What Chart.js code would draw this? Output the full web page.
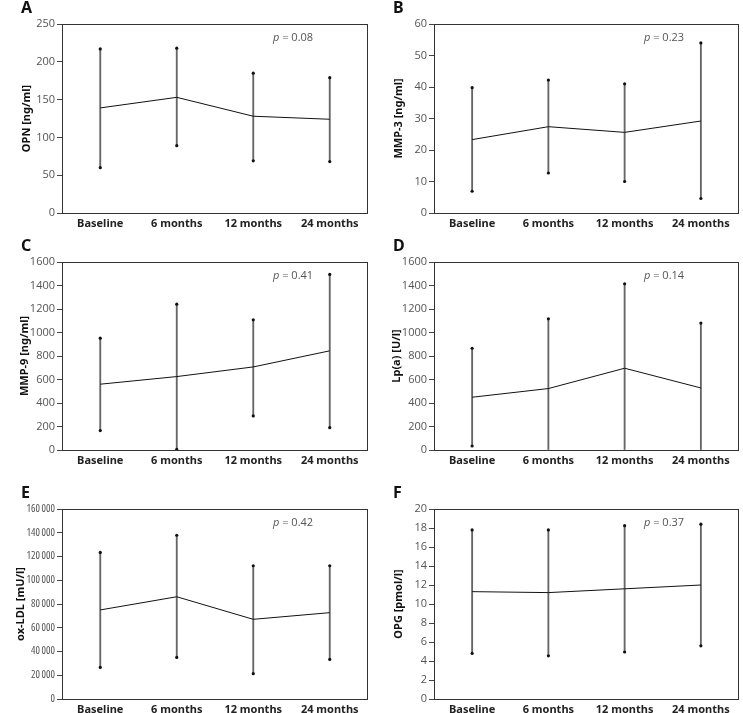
<!DOCTYPE html>
<html>
<head>
<meta charset="utf-8">
<script src="https://cdn.jsdelivr.net/npm/chart.js@4.4.1/dist/chart.umd.min.js"></script>
<style>
  html, body { margin: 0; padding: 0; background: #fff; }
  body { width: 743px; height: 713px; position: relative; overflow: hidden; }
  canvas { position: absolute; }
</style>
</head>
<body>
<canvas id="panelA" width="372" height="236" style="left:0;top:0"></canvas>
<canvas id="panelB" width="371" height="236" style="left:372px;top:0"></canvas>
<canvas id="panelC" width="372" height="236" style="left:0;top:236px"></canvas>
<canvas id="panelD" width="371" height="236" style="left:372px;top:236px"></canvas>
<canvas id="panelE" width="372" height="241" style="left:0;top:472px"></canvas>
<canvas id="panelF" width="371" height="241" style="left:372px;top:472px"></canvas>
<script>
const categories = ['Baseline', '6 months', '12 months', '24 months'];

// A - OPN
const opnMean = [139, 153, 128, 124];
const opnUpper = [217, 218, 185, 179];
const opnLower = [60, 89, 69, 68];
const opnTicks = [0, 50, 100, 150, 200, 250];

// B - MMP-3
const mmp3Mean = [23.3, 27.4, 25.6, 29.2];
const mmp3Upper = [39.8, 42.2, 41.0, 54.0];
const mmp3Lower = [6.9, 12.7, 10.0, 4.6];
const mmp3Ticks = [0, 10, 20, 30, 40, 50, 60];

// C - MMP-9
const mmp9Mean = [560, 625, 707, 844];
const mmp9Upper = [952, 1241, 1108, 1494];
const mmp9Lower = [165, 6, 290, 190];
const mmp9Ticks = [0, 200, 400, 600, 800, 1000, 1200, 1400, 1600];

// D - Lp(a)
const lpaMean = [449, 523, 696, 528];
const lpaUpper = [866, 1116, 1415, 1080];
const lpaLower = [34, 0, 0, 0];
const lpaTicks = [0, 200, 400, 600, 800, 1000, 1200, 1400, 1600];

// E - ox-LDL
const oxldlMean = [75000, 86100, 67100, 72700];
const oxldlUpper = [123400, 137900, 112200, 112200];
const oxldlLower = [26600, 35000, 21300, 33300];
const oxldlTicks = [0, 20000, 40000, 60000, 80000, 100000, 120000, 140000, 160000];

// F - OPG
const opgMean = [11.3, 11.2, 11.6, 12.0];
const opgUpper = [17.8, 17.8, 18.25, 18.4];
const opgLower = [4.8, 4.55, 4.95, 5.6];
const opgTicks = [0, 2, 4, 6, 8, 10, 12, 14, 16, 18, 20];

const tickFont = { family: '"Open Sans"', size: 11, weight: 'normal' };
// ox-LDL ticks are squeezed in the original, so use the condensed width
const narrowFont = { family: '"Open Sans"', size: 10.5, weight: 'condensed' };
const boldFont = { family: '"Noto Sans"', size: 11, weight: 'bold' };

// letter, p-value and box around the plot area
const decorations = {
  id: 'decorations',
  afterDraw(chart, args, opts) {
    const { ctx, chartArea } = chart;
    ctx.save();
    ctx.strokeStyle = '#333';
    ctx.lineWidth = 1;
    ctx.strokeRect(chartArea.left + 0.5, chartArea.top + 0.5,
      chartArea.right - chartArea.left - 1, chartArea.bottom - chartArea.top);

    ctx.fillStyle = '#111';
    ctx.font = 'bold 16px "Noto Sans"';
    ctx.textBaseline = 'middle';
    ctx.fillText(opts.letter, 21, chartArea.top - 16);

    const px = chartArea.right - 95;
    const py = chartArea.top + 14;
    ctx.fillStyle = '#555';
    ctx.font = 'italic 11px "Open Sans"';
    ctx.fillText('p', px, py);
    const w = ctx.measureText('p').width;
    ctx.font = '11px "Open Sans"';
    ctx.fillText(' = ' + opts.pValue, px + w, py);
    ctx.restore();
  }
};

function thousands(v) {
  return v === 0 ? '0' : String(v).replace(/\B(?=(\d{3})+(?!\d))/g, '\u2009');
}

function makePanel(id, p) {
  const ctx = document.getElementById(id).getContext('2d');
  const canvasW = ctx.canvas.width;

  new Chart(ctx, {
    type: 'bar',
    data: {
      labels: categories,
      datasets: [
        {
          type: 'line',
          data: p.mean,
          borderColor: '#111',
          borderWidth: 1,
          pointRadius: 0,
          tension: 0,
          fill: false,
          order: 0
        },
        {
          type: 'line',
          data: p.upper,
          showLine: false,
          pointRadius: 1.6,
          pointBackgroundColor: '#111',
          pointBorderWidth: 0,
          order: 1
        },
        {
          type: 'line',
          data: p.lower,
          showLine: false,
          pointRadius: c => (c.raw > 0 ? 1.6 : 0),
          pointBackgroundColor: '#111',
          pointBorderWidth: 0,
          order: 1
        },
        {
          type: 'bar',
          data: p.lower.map((lo, i) => [lo, p.upper[i]]),
          backgroundColor: '#666',
          borderWidth: 0,
          barThickness: 1.2,
          grouped: false,
          order: 2
        }
      ]
    },
    options: {
      responsive: false,
      animation: false,
      layout: { padding: { top: p.padTop, right: canvasW - 370, left: 0, bottom: 0 } },
      plugins: {
        legend: { display: false },
        tooltip: { enabled: false },
        decorations: { letter: p.letter, pValue: p.pValue }
      },
      scales: {
        x: {
          offset: true,
          grid: { display: false, drawTicks: false },
          border: { display: false },
          ticks: { color: '#222', font: boldFont, padding: 4, maxRotation: 0 },
          afterFit: s => { s.height = p.xHeight; }
        },
        y: {
          min: p.ticks[0],
          max: p.ticks[p.ticks.length - 1],
          afterBuildTicks: s => { s.ticks = p.ticks.map(v => ({ value: v })); },
          grid: { display: true, drawOnChartArea: false, drawTicks: true, tickLength: 5, color: '#444' },
          border: { display: false },
          ticks: {
            color: '#555',
            font: p.narrow ? narrowFont : tickFont,
            padding: 2,
            callback: v => (p.narrow ? thousands(v) : String(v))
          },
          title: {
            display: true,
            text: p.title,
            color: '#111',
            font: boldFont,
            padding: { top: p.titleOffset, bottom: 0 }
          },
          afterFit: s => { s.width = 62; }
        }
      }
    },
    plugins: [decorations]
  });
}

makePanel('panelA', { letter: 'A', pValue: '0.08', title: 'OPN [ng/ml]', mean: opnMean, upper: opnUpper, lower: opnLower, ticks: opnTicks, padTop: 24, xHeight: 23, titleOffset: 20 });
makePanel('panelB', { letter: 'B', pValue: '0.23', title: 'MMP-3 [ng/ml]', mean: mmp3Mean, upper: mmp3Upper, lower: mmp3Lower, ticks: mmp3Ticks, padTop: 24, xHeight: 23, titleOffset: 20 });
makePanel('panelC', { letter: 'C', pValue: '0.41', title: 'MMP-9 [ng/ml]', mean: mmp9Mean, upper: mmp9Upper, lower: mmp9Lower, ticks: mmp9Ticks, padTop: 26, xHeight: 22, titleOffset: 18 });
makePanel('panelD', { letter: 'D', pValue: '0.14', title: 'Lp(a) [U/l]', mean: lpaMean, upper: lpaUpper, lower: lpaLower, ticks: lpaTicks, padTop: 26, xHeight: 22, titleOffset: 18 });
makePanel('panelE', { letter: 'E', pValue: '0.42', title: 'ox-LDL [mU/l]', mean: oxldlMean, upper: oxldlUpper, lower: oxldlLower, ticks: oxldlTicks, padTop: 37, xHeight: 14, titleOffset: 14, narrow: true });
makePanel('panelF', { letter: 'F', pValue: '0.37', title: 'OPG [pmol/l]', mean: opgMean, upper: opgUpper, lower: opgLower, ticks: opgTicks, padTop: 37, xHeight: 14, titleOffset: 20 });
</script>
</body>
</html>
